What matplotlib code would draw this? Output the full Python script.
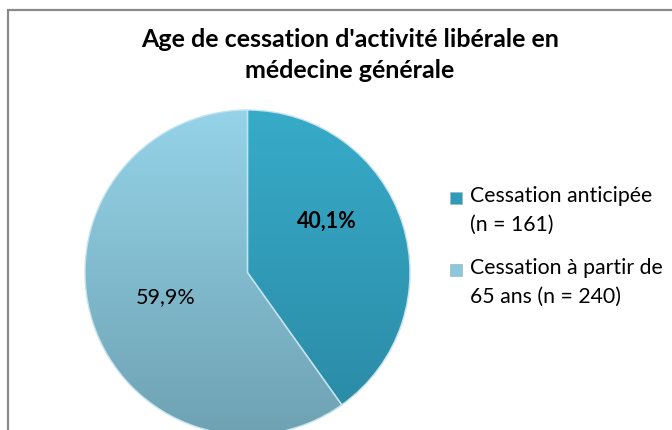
import numpy as np
import matplotlib
matplotlib.use("Agg")
import matplotlib.pyplot as plt
from matplotlib.patches import Rectangle

title = "Age de cessation d'activité libérale en\nmédecine générale"
categories = ["Cessation anticipée\n(n = 161)", "Cessation à partir de\n65 ans (n = 240)"]
counts = [161, 240]
pct_labels = ["40,1%", "59,9%"]

# slice colours: top and bottom of the vertical gradient
top_colors = ["#37abc9", "#95d3e8"]
bottom_colors = ["#2a89a4", "#6ea2b3"]
legend_colors = ["#2f9bb9", "#8cc8dc"]
label_weights = ["bold", "normal"]
label_angles = [34, 195]
label_radius = [0.59, 0.52]

plt.rcParams["font.family"] = ["Lato", "DejaVu Sans"]

W, H = 672, 430
fig = plt.figure(figsize=(W / 100, H / 100), dpi=100)
fig.patch.set_facecolor("white")

# chart frame (cropped on right and bottom)
fig.patches.append(Rectangle((8 / W, -0.1), 1.0, 1 - 10 / H + 0.1,
                             transform=fig.transFigure, fill=False,
                             edgecolor="#8a8a8a", linewidth=1.6))

cx, cy, r = 247.5, 272.5, 162.5
ax = fig.add_axes([(cx - r) / W, (H - cy - r) / H, 2 * r / W, 2 * r / H])

wedges, _ = ax.pie(counts, startangle=90, counterclock=False, radius=1,
                   colors=legend_colors,
                   wedgeprops=dict(edgecolor="#c4e3ee", linewidth=1.0))

for w, c0, c1 in zip(wedges, top_colors, bottom_colors):
    a = np.array(matplotlib.colors.to_rgb(c0))
    b = np.array(matplotlib.colors.to_rgb(c1))
    t = np.linspace(0, 1, 256)[:, None]
    grad = (a * (1 - t) + b * t)[:, None, :]
    im = ax.imshow(grad, extent=[-1, 1, -1, 1], aspect="auto", zorder=1.5)
    im.set_clip_path(w)
    w.set_facecolor("none")
    w.set_zorder(2)

ax.set_xlim(-1, 1)
ax.set_ylim(-1, 1)
ax.axis("off")

for txt, ang, rr, fw in zip(pct_labels, label_angles, label_radius, label_weights):
    th = np.deg2rad(ang)
    ax.text(rr * np.cos(th), rr * np.sin(th) - 0.015, txt, ha="center", va="center",
            fontsize=15.5, fontweight=fw, color="black", zorder=3)

fig.text(350 / W, 1 - 55 / H, title, ha="center", va="center", fontsize=18,
         fontweight="bold", linespacing=1.45)

# legend
leg_y = [198, 270]
for col, lab, y in zip(legend_colors, categories, leg_y):
    fig.patches.append(Rectangle((450 / W, 1 - (y + 6) / H), 12 / W, 12 / H,
                                 transform=fig.transFigure, facecolor=col,
                                 edgecolor="#9bb8c2", linewidth=0.5))
    fig.text(470 / W, 1 - (y - 12) / H, lab, ha="left", va="top",
             fontsize=15.3, linespacing=1.55)

fig.savefig("out.png", dpi=100)
